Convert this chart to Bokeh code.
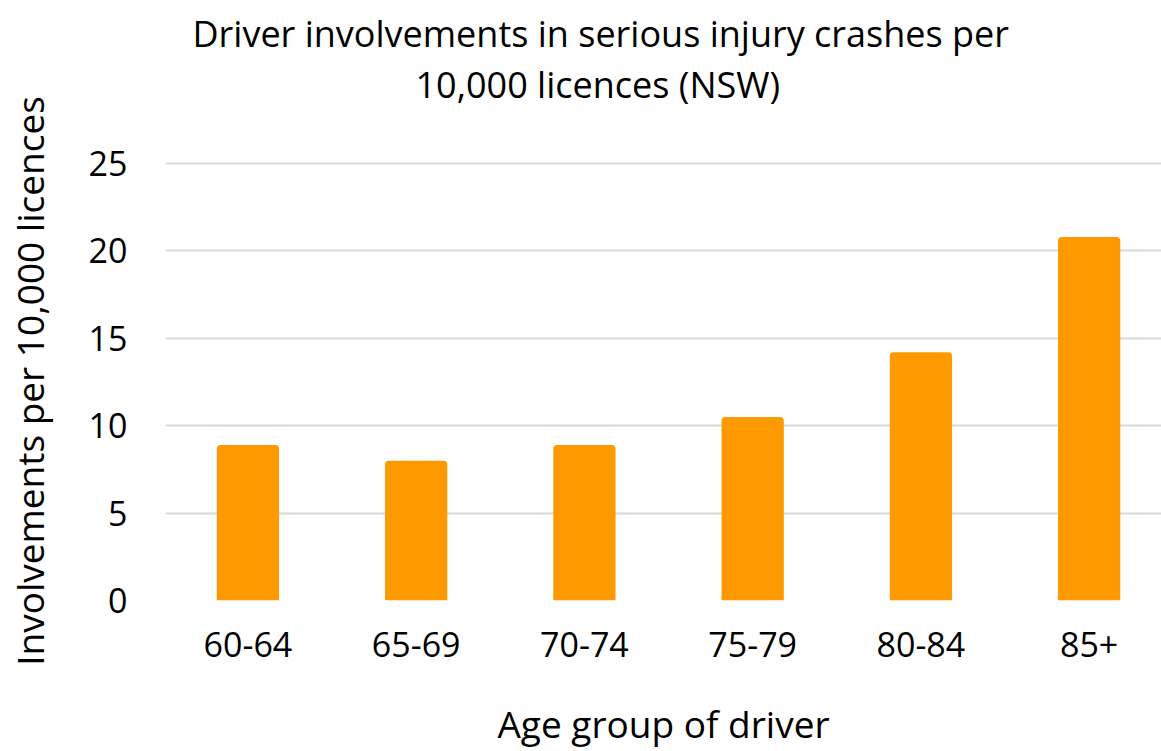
from bokeh.plotting import figure
from bokeh.models import FixedTicker, Range1d, Title, ColumnDataSource
from bokeh.embed import file_html
from bokeh.resources import INLINE

age_groups = ["60-64", "65-69", "70-74", "75-79", "80-84", "85+"]
involvements = [8.9, 8.0, 8.9, 10.5, 14.2, 20.8]
y_ticks = [0, 5, 10, 15, 20, 25]
title_lines = ["Driver involvements in serious injury crashes per", "10,000 licences (NSW)"]
x_label = "Age group of driver"
y_label = "Involvements per 10,000 licences"

FONT = "Open Sans"
BAR = "#FF9900"
GRID = "#D9D9D9"

xs = list(range(len(age_groups)))
src = ColumnDataSource(dict(x=xs, top=involvements))

p = figure(width=1161, height=751, output_backend="svg", toolbar_location=None,
           x_range=Range1d(-0.49, 5.43), y_range=Range1d(0, 25.12),
           min_border_left=164, min_border_top=161, min_border_bottom=151, min_border_right=0)
p.outline_line_color = None
p.background_fill_color = "white"
p.border_fill_color = "white"

p.vbar(x="x", top="top", bottom=0, width=0.37, source=src, fill_color=BAR, line_color=None,
       border_radius=(4, 4, 0, 0))

p.xgrid.grid_line_color = None
p.ygrid.grid_line_color = GRID
p.ygrid.grid_line_width = 2
p.ygrid.ticker = FixedTicker(ticks=y_ticks)

p.yaxis.ticker = FixedTicker(ticks=y_ticks)
p.xaxis.ticker = FixedTicker(ticks=xs)
p.xaxis.major_label_overrides = {i: g for i, g in enumerate(age_groups)}

for ax in (p.xaxis[0], p.yaxis[0]):
    ax.axis_line_color = None
    ax.major_tick_line_color = None
    ax.minor_tick_line_color = None
    ax.major_label_text_font = FONT
    ax.major_label_text_font_size = "34px"
    ax.major_label_text_color = "#000000"
    ax.axis_label_text_font = FONT
    ax.axis_label_text_font_size = "37px"
    ax.axis_label_text_font_style = "normal"
    ax.axis_label_text_color = "#000000"

p.xaxis.axis_label = x_label
p.yaxis.axis_label = y_label
p.xaxis.major_label_standoff = 25
p.xaxis.axis_label_standoff = 38
p.yaxis.major_label_standoff = 32
p.yaxis.axis_label_standoff = 31

# spacer between title block and plot frame (added first -> nearest the frame)
p.add_layout(Title(text=" ", text_font=FONT, text_font_size="10px", standoff=37), "above")
p.add_layout(Title(text=title_lines[1], align="left", offset=250, standoff=0,
                   text_font=FONT, text_font_size="36px", text_font_style="normal",
                   text_color="#000000"), "above")
p.add_layout(Title(text=title_lines[0], align="left", offset=27, standoff=0,
                   text_font=FONT, text_font_size="36px", text_font_style="normal",
                   text_color="#000000"), "above")

open("out.html", "w").write(file_html(p, INLINE))
